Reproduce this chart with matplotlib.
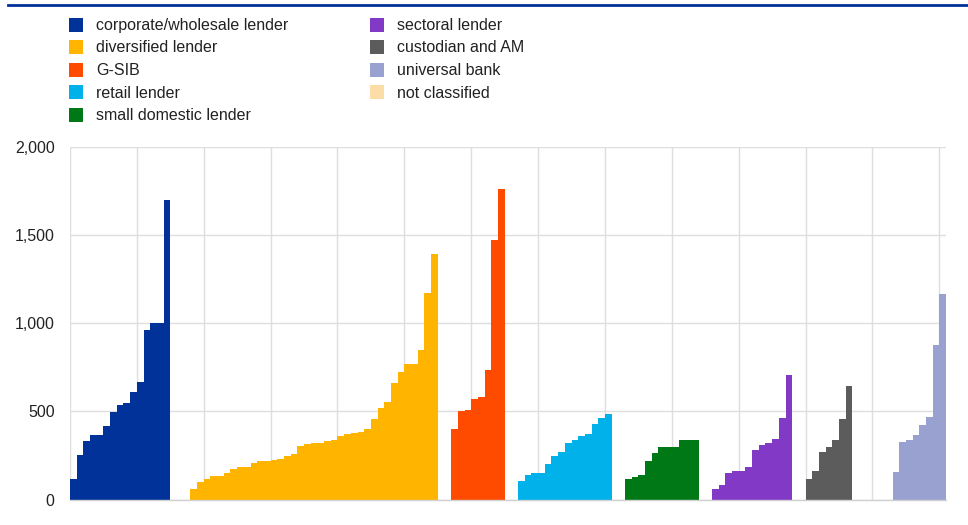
import matplotlib.pyplot as plt
from matplotlib.patches import Rectangle
from matplotlib.lines import Line2D

plt.rcParams['font.family'] = ['Liberation Sans', 'DejaVu Sans']

# values per bank, grouped by business model (sorted ascending within group)
corporate = [114, 252, 333, 365, 365, 416, 498, 536, 545, 610, 665, 962, 1000, 1000, 1700]
diversified = [61, 100, 115, 131, 131, 148, 172, 182, 186, 206, 218, 221, 223, 231, 244,
               256, 301, 314, 320, 322, 333, 337, 362, 373, 377, 382, 401, 454, 521, 551,
               659, 723, 767, 767, 848, 1170, 1393]
gsib = [398, 502, 506, 572, 579, 734, 1473, 1760]
retail = [104, 138, 148, 148, 201, 246, 271, 318, 337, 363, 369, 428, 464, 483]
small_domestic = [119, 129, 138, 221, 265, 297, 297, 297, 335, 335, 335]
sectoral = [62, 85, 151, 159, 161, 184, 282, 309, 322, 346, 464, 704]
custodian = [117, 159, 271, 299, 339, 454, 644]
universal = [155, 327, 337, 365, 422, 468, 876, 1166]
not_classified = []

groups = [corporate, diversified, gsib, retail, small_domestic, sectoral, custodian, universal]
gaps = [0, 3, 2, 2, 2, 2, 2, 6]  # empty slots before each group
labels = ['corporate/wholesale lender', 'diversified lender', 'G-SIB', 'retail lender',
          'small domestic lender', 'sectoral lender', 'custodian and AM', 'universal bank',
          'not classified']
colors = ['#003299', '#FFB400', '#FF4B00', '#00B1EA', '#007816', '#8139C6', '#5C5C5C',
          '#98A1D0', '#FDDDA7']

yticks = [0, 500, 1000, 1500, 2000]
ytick_labels = ['0', '500', '1,000', '1,500', '2,000']

W, H = 968, 525
fig = plt.figure(figsize=(W / 100, H / 100), dpi=100)
ax = fig.add_axes([70 / W, (H - 499.5) / H, (946 - 70) / W, (499.5 - 147) / H])

pos = 0
for vals, gap, col in zip(groups, gaps, colors):
    pos += gap
    xs = list(range(pos, pos + len(vals)))
    ax.bar(xs, vals, width=1.0, align='edge', color=col, linewidth=0, zorder=3)
    pos += len(vals)

ax.set_xlim(0, 131)
ax.set_ylim(0, 2000)
ax.set_xticks(range(0, 131, 10))
ax.set_xticklabels([])
ax.set_yticks(yticks)
ax.set_yticklabels(ytick_labels, fontsize=11.5, color='#222222')
ax.tick_params(axis='both', length=0)
ax.tick_params(axis='y', pad=11)
ax.grid(True, color='#dedede', linewidth=1.0, zorder=0)
for s in ['left', 'right', 'top']:
    ax.spines[s].set_visible(False)
ax.spines['bottom'].set_color('#d0d0d0')
ax.spines['bottom'].set_linewidth(1.0)
ax.spines['bottom'].set_zorder(4)

# top rule
fig.add_artist(Line2D([8 / W, 1.0], [(H - 5) / H, (H - 5) / H], color='#003299', linewidth=2))

# legend (two columns)
rows_y = [24.5, 47, 69.5, 92, 115]
for i, (lab, col) in enumerate(zip(labels, colors)):
    if i < 5:
        px, ty = 69, rows_y[i]
    else:
        px, ty = 370, rows_y[i - 5]
    fig.add_artist(Rectangle((px / W, (H - ty - 7) / H), 14 / W, 14 / H, facecolor=col,
                             edgecolor='none', transform=fig.transFigure))
    fig.text((px + 27) / W, (H - ty - 1) / H, lab, fontsize=11.5, color='#222222',
             va='center', ha='left')

fig.savefig('out.png', dpi=100)
